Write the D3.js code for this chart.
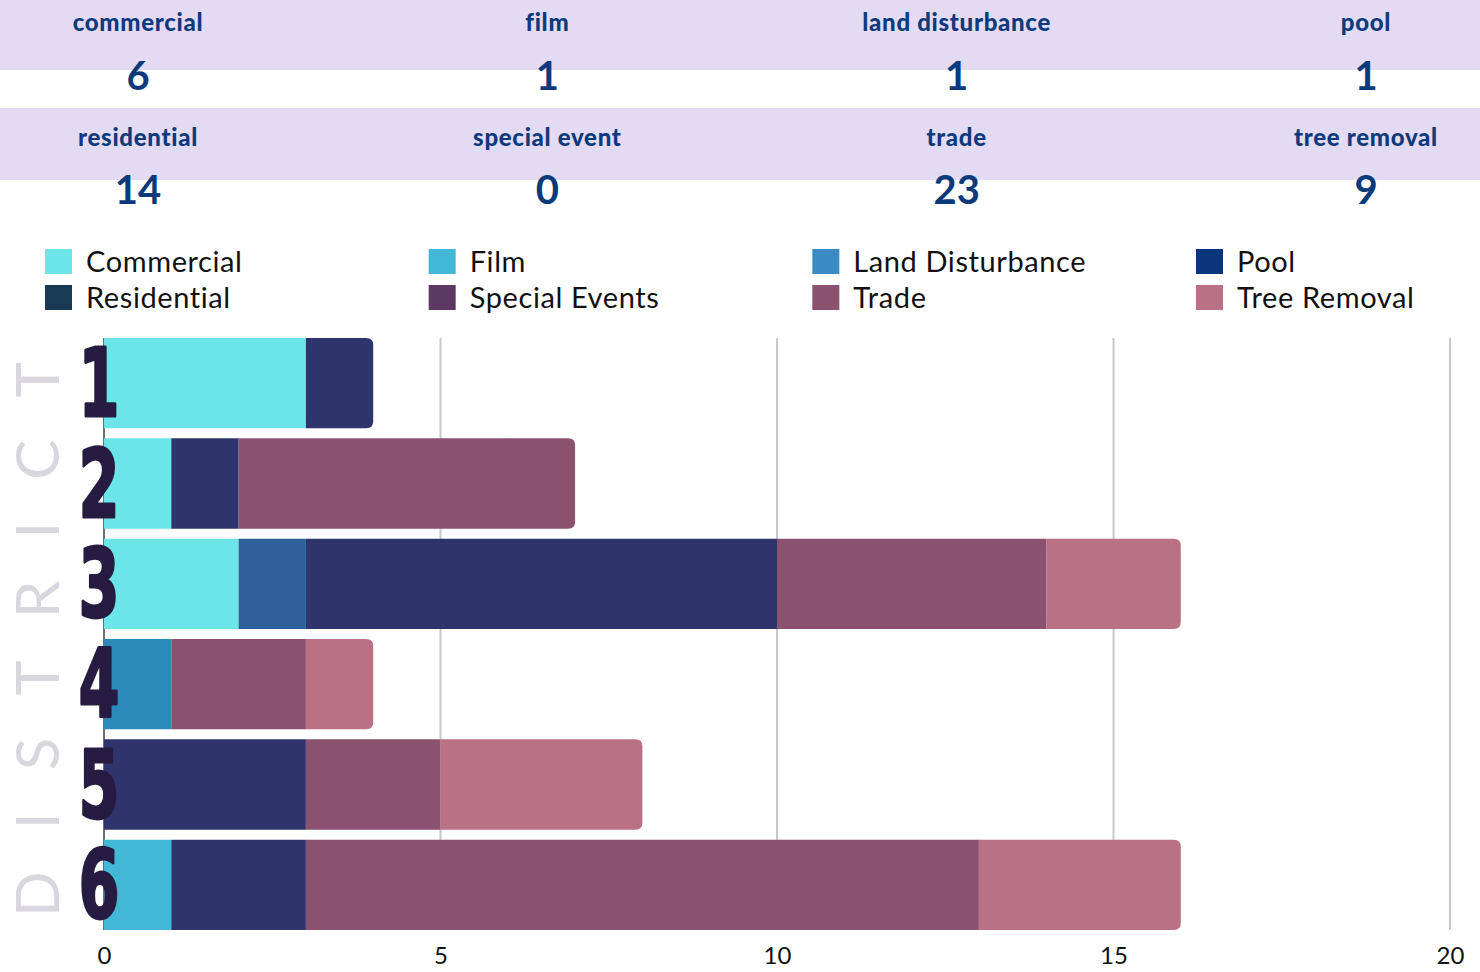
<!DOCTYPE html>
<html>
<head>
<meta charset="utf-8">
<script src="https://cdn.jsdelivr.net/npm/d3@7"></script>
<style>
  html, body { margin: 0; padding: 0; background: #ffffff; }
  svg { display: block; }
</style>
</head>
<body>
<svg id="chart" width="1480" height="972"></svg>
<script>
// ---- data ----
const districts = ["1", "2", "3", "4", "5", "6"];
const categories = ["Commercial", "Film", "Land Disturbance", "Pool", "Residential", "Special Events", "Trade", "Tree Removal"];
const commercial      = [3, 1, 2, 0, 0, 0];
const film            = [0, 0, 0, 0, 0, 1];
const landDisturbance = [0, 0, 0, 1, 0, 0];
const pool            = [0, 0, 1, 0, 0, 0];
const residential     = [1, 1, 7, 0, 3, 2];
const specialEvents   = [0, 0, 0, 0, 0, 0];
const trade           = [0, 5, 4, 2, 2, 10];
const treeRemoval     = [0, 0, 2, 1, 3, 3];
const summaryLabels = ["commercial", "film", "land disturbance", "pool", "residential", "special event", "trade", "tree removal"];
const summaryValues = [6, 1, 1, 1, 14, 0, 23, 9];
const xTicks = [0, 5, 10, 15, 20];

// ---- styles ----
const legendColors = ["#6be5e8", "#42b8d6", "#3a8bc4", "#0a357a", "#183a52", "#5c3963", "#8a526f", "#b97284"];
const barColors    = ["#6be5e8", "#42b8d6", "#2d8bbb", "#2e5f98", "#30346d", "#5c3963", "#8a526f", "#b97284"];

const seriesValues = [commercial, film, landDisturbance, pool, residential, specialEvents, trade, treeRemoval];
const rows = districts.map((d, i) => {
  const r = { district: d };
  categories.forEach((c, k) => { r[c] = seriesValues[k][i]; });
  return r;
});
const totals = rows.map(r => d3.sum(categories, c => r[c]));

const svg = d3.select("#chart");

// ---- header bands ----
const header = svg.append("g");
header.selectAll("rect.band").data([0, 108]).join("rect")
  .attr("x", 0).attr("y", d => d).attr("width", 1480).attr("height", d => d === 0 ? 70 : 72)
  .attr("fill", "#e2dbf3");

const colX = d3.scalePoint().domain(d3.range(4)).range([138, 1366]);
summaryLabels.forEach((lab, i) => {
  const col = i % 4, row = Math.floor(i / 4);
  header.append("text")
    .attr("x", colX(col)).attr("y", row === 0 ? 31 : 146)
    .attr("text-anchor", "middle")
    .attr("font-family", "Lato, sans-serif").attr("font-weight", 900).attr("font-size", 24)
    .attr("letter-spacing", 0.7)
    .attr("fill", "#0d3a7c").text(lab);
  header.append("text")
    .attr("x", colX(col)).attr("y", row === 0 ? 90 : 204)
    .attr("text-anchor", "middle")
    .attr("font-family", "Lato, sans-serif").attr("font-weight", 700).attr("font-size", 40)
    .attr("fill", "#0b3a7a").text(summaryValues[i]);
});

// ---- legend ----
const legX = d3.scalePoint().domain(d3.range(4)).range([45, 1196]);
const legend = svg.append("g");
categories.forEach((c, i) => {
  const col = i % 4, row = Math.floor(i / 4);
  const g = legend.append("g").attr("transform", `translate(${legX(col)},${row === 0 ? 249 : 285})`);
  g.append("rect").attr("width", 27).attr("height", 25).attr("fill", legendColors[i]);
  g.append("text").attr("x", 41).attr("y", 23)
    .attr("font-family", "Lato, sans-serif").attr("font-size", 29).attr("fill", "#111")
    .attr("letter-spacing", 0.6)
    .text(c);
});

// ---- scales ----
const x = d3.scaleLinear().domain([0, 20]).range([104, 1450]);
const y = d3.scaleBand().domain(districts).range([333, 935]).paddingInner(0.1).paddingOuter(0.05);
const yTop = y(districts[0]);
const yBot = y(districts[districts.length - 1]) + y.bandwidth();

// gridlines
svg.append("g").selectAll("line").data(xTicks.filter(t => t > 0)).join("line")
  .attr("x1", d => x(d)).attr("x2", d => x(d))
  .attr("y1", yTop).attr("y2", yBot)
  .attr("stroke", "#c8c8c8").attr("stroke-width", 2);

// left axis line
svg.append("line").attr("x1", x(0)).attr("x2", x(0)).attr("y1", yTop).attr("y2", yBot)
  .attr("stroke", "#707070").attr("stroke-width", 2);

// ---- stacked bars ----
const stack = d3.stack().keys(categories);
const layers = stack(rows);

function segPath(x0, x1, y0, h, round) {
  const r = Math.min(7, (x1 - x0));
  if (!round) return `M${x0},${y0}H${x1}V${y0 + h}H${x0}Z`;
  return `M${x0},${y0}H${x1 - r}Q${x1},${y0} ${x1},${y0 + r}V${y0 + h - r}Q${x1},${y0 + h} ${x1 - r},${y0 + h}H${x0}Z`;
}

const bars = svg.append("g");
layers.forEach((layer, k) => {
  bars.append("g").attr("fill", barColors[k])
    .selectAll("path").data(layer.filter(d => d[1] - d[0] > 0)).join("path")
    .attr("d", d => {
      const idx = districts.indexOf(d.data.district);
      return segPath(x(d[0]), x(d[1]), y(d.data.district), y.bandwidth(), d[1] === totals[idx]);
    });
});

// ---- x axis ----
const xAxis = svg.append("g").attr("transform", `translate(0,${yBot})`)
  .call(d3.axisBottom(x).tickValues(xTicks).tickSize(0).tickPadding(17));
xAxis.select(".domain").remove();
xAxis.selectAll("text").attr("font-family", "Lato, sans-serif").attr("font-size", 24).attr("fill", "#111");

// ---- district numbers ----
svg.append("g").selectAll("text").data(districts).join("text")
  .attr("transform", d => `translate(99,${y(d) + y.bandwidth() / 2 + 33}) scale(0.69,1)`)
  .attr("text-anchor", "middle")
  .attr("font-family", "'Liberation Sans Narrow', 'DejaVu Sans Condensed', sans-serif")
  .attr("font-weight", 700).attr("font-size", 94)
  .attr("fill", "#261c41")
  .attr("stroke", "#261c41").attr("stroke-width", 3).attr("stroke-linejoin", "round")
  .text(d => d);

// ---- DISTRICT vertical title ----
svg.append("text")
  .attr("transform", `translate(59,${(917 + 362) / 2}) rotate(-90)`)
  .attr("text-anchor", "middle")
  .attr("font-family", "Lato, sans-serif").attr("font-size", 60)
  .attr("fill", "#d9d6df")
  .attr("textLength", 555).attr("lengthAdjust", "spacing")
  .text("DISTRICT");
</script>
</body>
</html>
